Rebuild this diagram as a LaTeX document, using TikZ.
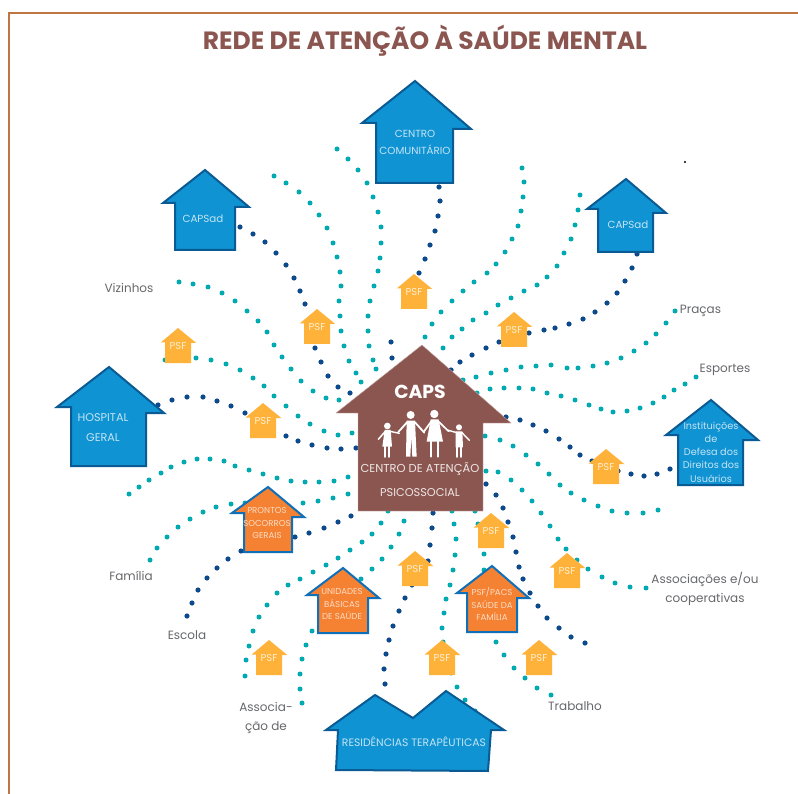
\documentclass[tikz,border=0pt]{standalone}
\usepackage{fontspec}
\setmainfont{Poppins}
\pgfdeclarelayer{chains}
\pgfsetlayers{chains,main}
\pgfdeclareplotmark{rounddot}{\pgfpathcircle{\pgfpointorigin}{\pgfplotmarksize}\pgfusepathqfill}
\definecolor{capsbrown}{HTML}{8C5650}
\definecolor{frameline}{HTML}{BF7544}
\definecolor{blueH}{HTML}{0F93D2}
\definecolor{blueL}{HTML}{0A5A94}
\definecolor{orangeH}{HTML}{F58233}
\definecolor{orangeL}{HTML}{0F6FB8}
\definecolor{psfH}{HTML}{FFB23A}
\definecolor{tealdot}{HTML}{00AAB0}
\definecolor{navydot}{HTML}{0C4A8C}
\definecolor{greytxt}{HTML}{66676B}
\definecolor{bluetext}{HTML}{C4E4F5}
\definecolor{orangetext}{HTML}{FDDCC4}
\definecolor{psftext}{HTML}{FFEFD2}
\tikzset{
  bluehouse/.style={draw=blueL,fill=blueH,line width=2pt,line join=miter},
  orangehouse/.style={draw=orangeL,fill=orangeH,line width=2pt,line join=miter},
  capshouse/.style={fill=capsbrown,draw=capsbrown!50!white,line width=.4pt},
  psfhouse/.style={fill=psfH},
  bluetxt/.style={text=bluetext,align=center,inner sep=0pt,font=\fontsize{10.3}{17}\selectfont},
  orangetxt/.style={text=orangetext,align=center,inner sep=0pt,font=\fontsize{8.6}{12.8}\selectfont},
  psftxt/.style={text=psftext,inner sep=0pt,font=\fontsize{10}{11}\selectfont},
  freetxt/.style={text=greytxt,align=center,inner sep=0pt,font=\fontsize{12}{19}\selectfont},
  captxt/.style={text=capsbrown!15!white,inner sep=0pt},
  tealchain/.style={only marks,mark=rounddot,mark size=2.5pt,mark options={fill=tealdot}},
  navychain/.style={only marks,mark=rounddot,mark size=2.6pt,mark options={fill=navydot}},
  figure/.style={draw=white,line cap=round,line join=round}
}
\newcommand{\psfat}[3]{%
  \fill[psfhouse] (#2,#3) -- ++(18.3,15) -- ++(-5.3,0) -- ++(0,20) -- ++(-26,0) -- ++(0,-20.5) -- ++(-4.3,0) -- cycle;
  \node[psftxt] (#1) at (#2,#3+18.5) {PSF};}
\begin{document}
\begin{tikzpicture}[x=1pt,y=-1pt]
\useasboundingbox (0,0) rectangle (798,794);
% frame
\draw[frameline,line width=1.8pt] (8.7,794) -- (8.7,12.7) -- (798,12.7);
% title
\node[inner sep=0pt,text=capsbrown,font=\bfseries\fontsize{25}{28}\selectfont] (title) at (425,40.5) {REDE DE ATENÇÃO À SAÚDE MENTAL};
% speck
\fill[black] (685,162) circle (1.1);

% CAPS
\draw[capshouse] (422,345) -- (511,423) -- (483,423) -- (483,511) -- (358,511) -- (358,413) -- (336,413) -- cycle;
\node[text=white,inner sep=0pt,font=\bfseries\fontsize{18.8}{20}\selectfont] (caps) at (420,392) {CAPS};
\begin{scope}[shift={(300,330)},x=.3333pt,y=-.3333pt]
  \fill[white] (262,288) circle (10);
  \fill[white] (332,255) circle (12);
  \fill[white] (403,252) circle (12.5);
  \fill[white] (477,292) circle (9);
  % child left
  \fill[white] (254,300) -- (272,300) -- (276,350) -- (247,350) -- cycle;
  \draw[figure,line width=1.5pt] (256,304) -- (235,328);
  \draw[figure,line width=1.4pt] (270,304) -- (298,310);
  \draw[figure,line width=1.8pt] (254,350) -- (254,381) (268,350) -- (268,381);
  % man
  \fill[white] (320,272) -- (345,272) -- (350,380) -- (337,380) -- (334,320) -- (331,380) -- (318,380) -- cycle;
  \draw[figure,line width=1.8pt] (322,276) -- (295,306);
  \draw[figure,line width=1.8pt] (344,276) -- (373,308);
  % woman
  \fill[white] (392,268) -- (416,268) -- (429,335) -- (380,335) -- cycle;
  \draw[figure,line width=1.7pt] (394,274) -- (371,306);
  \draw[figure,line width=1.7pt] (415,274) -- (446,304);
  \draw[figure,line width=2pt] (394,335) -- (394,380) (413,335) -- (413,380);
  % child right
  \fill[white] (467,304) -- (487,304) -- (489,352) -- (467,352) -- cycle;
  \draw[figure,line width=1.4pt] (470,308) -- (442,300);
  \draw[figure,line width=1.4pt] (486,308) -- (508,331);
  \draw[figure,line width=1.8pt] (472,350) -- (472,381) (484,350) -- (484,381);
\end{scope}
\node[captxt,font=\fontsize{11.5}{12}\selectfont] (capsA) at (420,469.5) {CENTRO DE ATENÇÃO};
\node[captxt,font=\fontsize{11.3}{12}\selectfont] (capsB) at (420,493) {PSICOSSOCIAL};

% blue houses
\draw[bluehouse] (415,81) -- (471,129) -- (453,129) -- (453,183) -- (376,183) -- (376,123) -- (362,123) -- cycle;
\node[bluetxt] (centro) at (415,142.5) {CENTRO\\COMUNITÁRIO};
\draw[bluehouse] (205,170) -- (249,207) -- (235,207) -- (235,250) -- (175,250) -- (175,203) -- (163,203) -- cycle;
\node[bluetxt] (capsadL) at (203,219) {CAPSad};
\draw[bluehouse] (626,179) -- (666,213) -- (653,213) -- (653,252) -- (598,252) -- (598,209) -- (587,209) -- cycle;
\node[bluetxt] (capsadR) at (628,225) {CAPSad};
\draw[bluehouse] (109,367) -- (164,413) -- (146,413) -- (146,466) -- (71,466) -- (71,407) -- (57,407) -- cycle;
\node[bluetxt,font=\fontsize{11.2}{20}\selectfont] (hospital) at (103,428) {HOSPITAL\\GERAL};
\draw[bluehouse] (711,400) -- (758,440) -- (743,440) -- (743,485) -- (678,485) -- (678,435) -- (666,435) -- cycle;
\node[bluetxt,font=\fontsize{9.7}{13.3}\selectfont] (inst) at (711,452) {Instituições\\de\\Defesa dos\\Direitos dos\\Usuários};
\draw[bluehouse] (375,695) -- (413,718) -- (446,691) -- (504,730) -- (491,730) -- (488,771) -- (336,770) -- (338,730) -- (326,730) -- cycle;
\node[bluetxt,font=\fontsize{10.8}{12}\selectfont] (resid) at (414,742) {RESIDÊNCIAS TERAPÊUTICAS};

% orange houses
\draw[orangehouse] (268,487) -- (304,517) -- (292,517) -- (292,552) -- (244,552) -- (244,513) -- (232,513) -- cycle;
\node[orangetxt] (prontos) at (267,523) {PRONTOS\\SOCORROS\\GERAIS};
\draw[orangehouse] (343,568) -- (379,598) -- (368,598) -- (368,633) -- (318,633) -- (318,595) -- (307,595) -- cycle;
\node[orangetxt] (unidades) at (342,604) {UNIDADES\\BÁSICAS\\DE SAÚDE};
\draw[orangehouse] (492,566) -- (529,598) -- (517,598) -- (517,632) -- (467,632) -- (467,593) -- (457,593) -- cycle;
\node[orangetxt] (psfpacs) at (492,604) {PSF/PACS\\SAÚDE DA\\FAMÍLIA};

% PSF houses
\psfat{psfA}{491}{513}
\psfat{psfB}{415}{551}
\psfat{psfC}{567}{553}
\psfat{psfD}{442}{640}
\psfat{psfE}{539}{640}
\psfat{psfF}{269}{640}
\psfat{psfG}{606}{449}
\psfat{psfH}{178}{328}
\psfat{psfI}{317}{309}
\psfat{psfJ}{263}{403}
\psfat{psfK}{414}{274}
\psfat{psfL}{514}{312}

% free labels
\node[freetxt] (vizinhos) at (129,288) {Vizinhos};
\node[freetxt] (pracas) at (700.5,311) {Praças};
\node[freetxt] (esportes) at (725,370) {Esportes};
\node[freetxt] (assoc) at (705,589) {Associações e/ou\\cooperativas};
\node[freetxt] (familia) at (131,576) {Família};
\node[freetxt] (escola) at (187,635) {Escola};
\node[freetxt] (assocde) at (266,718) {Associa-\\ção de};
\node[freetxt] (trabalho) at (575,706) {Trabalho};

\begin{pgfonlayer}{chains}
% teal chains
\draw plot[tealchain] coordinates {(179,282)(193,284)(208,287)(222,293)(235,301)(247,311)(258,321)(267,332)(274,345)(282,357)(291,369)(301,381)(313,391)(326,398)(339,400)(caps)};
\draw plot[tealchain] coordinates {(psfH)(165,360)(181,358)(196,358)(211,360)(226,364)(240,370)(253,378)(264,386)(274,396)(286,406)(298,416)(310,424)(324,431)(338,435)(352,433)(caps)};
\draw plot[tealchain] coordinates {(129,494)(139,487)(149,480)(161,473)(171,467)(184,462)(197,459)(210,459)(224,461)(235,466)(249,470)(263,474)(277,478)(291,481)(305,482)(319,482)(334,481)(348,477)(caps)};
\draw plot[tealchain] coordinates {(150,560)(157,548)(167,537)(178,527)(190,519)(203,512)(216,507)(231,504)(245,503)(prontos)(303,503)(318,501)(333,498)(348,494)(caps)};
\draw plot[tealchain] coordinates {(245,676)(246,660)(249,646)(253,631)(259,617)(267,605)(277,593)(288,585)(300,579)(313,572)(326,565)(338,558)(350,550)(362,542)(372,534)(381,523)(388,511)(caps)};
\draw plot[tealchain] coordinates {(302,703)(300,689)(300,674)(302,659)(306,645)(312,631)(unidades)(361,579)(372,569)(382,559)(391,547)(399,534)(404,521)(caps)};
\draw plot[tealchain] coordinates {(resid)(475,711)(465,700)(457,687)(451,673)(psfD)(443,642)(442,628)(444,613)(446,599)(450,585)(453,570)(455,555)(456,539)(454,524)(452,511)(caps)};
\draw plot[tealchain] coordinates {(551,695)(537,688)(525,678)(514,668)(504,655)(496,642)(psfpacs)(484,570)(484,554)(psfA)(478,524)(475,511)(caps)};
\draw plot[tealchain] coordinates {(646,588)(630,587)(615,583)(602,577)(588,569)(577,560)(566,549)(558,539)(550,526)(541,513)(532,501)(522,490)(511,480)(498,472)(486,471)(caps)};
\draw plot[tealchain] coordinates {(658,510)(643,513)(627,513)(612,511)(598,506)(584,500)(571,493)(560,485)(549,474)(538,464)(526,455)(513,446)(500,440)(485,436)(caps)};
\draw plot[tealchain] coordinates {(696,377)(685,384)(674,390)(664,397)(653,403)(640,408)(627,411)(613,412)(601,409)(589,405)(575,400)(561,396)(547,393)(533,389)(519,388)(504,388)(490,389)(477,393)(caps)};
\draw plot[tealchain] coordinates {(675,311)(666,323)(656,334)(646,343)(634,351)(621,358)(607,363)(593,366)(578,368)(567,368)(551,365)(536,366)(521,367)(506,370)(491,373)(476,377)(463,380)(caps)};
\draw plot[tealchain] coordinates {(580,195)(578,210)(575,225)(571,239)(564,253)(557,266)(547,277)(537,285)(524,291)(511,298)(498,305)(486,313)(473,320)(462,329)(452,337)(443,348)(caps)};
\draw plot[tealchain] coordinates {(522,168)(524,182)(523,197)(521,211)(518,226)(512,239)(505,252)(496,264)(487,273)(474,282)(463,291)(452,301)(441,312)(432,324)(425,337)(caps)};
\draw plot[tealchain] coordinates {(274,176)(286,183)(299,192)(310,203)(319,215)(327,228)(333,243)(337,257)(340,272)(341,286)(339,301)(340,316)(341,331)(344,346)(349,361)(356,373)(361,382)(caps)};
\draw plot[tealchain] coordinates {(337,149)(348,159)(358,170)(367,183)(373,197)(378,212)(381,227)(381,243)(380,258)(378,271)(374,286)(370,301)(368,316)(368,331)(369,346)(373,360)(376,369)(caps)};
% navy chains
\draw plot[navychain] coordinates {(hospital)(158,405)(172,400)(187,397)(203,397)(217,401)(231,406)(245,413)(psfJ)(286,436)(298,441)(312,445)(327,448)(341,449)(356,448)(caps)};
\draw plot[navychain] coordinates {(187,616)(192,603)(198,590)(207,578)(217,568)(228,559)(241,551)(prontos)(295,537)(309,533)(324,528)(338,522)(351,516)(caps)};
\draw plot[navychain] coordinates {(resid)(385,684)(384,669)(386,654)(389,640)(393,626)(399,611)(405,598)(412,585)(psfB)(428,561)(430,545)(432,528)(433,513)(caps)};
\draw plot[navychain] coordinates {(585,643)(571,637)(559,628)(547,618)(538,606)(530,593)(523,579)(519,567)(516,552)(513,537)(508,522)(503,508)(496,495)(486,484)(caps)};
\draw plot[navychain] coordinates {(inst)(670,469)(657,474)(644,476)(631,474)(618,471)(psfG)(592,461)(580,455)(570,447)(559,439)(546,431)(533,425)(520,420)(506,417)(caps)};
\draw plot[navychain] coordinates {(capsadR)(637,254)(632,268)(625,281)(617,293)(607,303)(595,312)(583,319)(569,324)(555,328)(544,330)(529,333)(psfL)(499,342)(486,348)(472,355)(460,362)(451,370)(caps)};
\draw plot[navychain] coordinates {(centro)(439,187)(440,201)(438,216)(435,231)(430,245)(425,259)(419,273)(psfK)(391,342)(392,358)(caps)};
\draw plot[navychain] coordinates {(capsadL)(240,227)(253,234)(265,242)(276,253)(286,265)(294,278)(300,291)(305,304)(psfI)(315,348)(321,362)(328,376)(338,387)(350,393)(caps)};
\end{pgfonlayer}
\end{tikzpicture}
\end{document}
